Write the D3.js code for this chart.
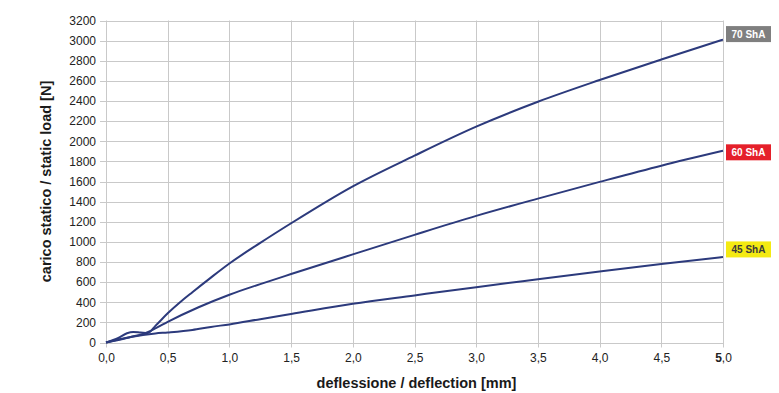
<!DOCTYPE html>
<meta charset="utf-8">
<script src="https://d3js.org/d3.v7.min.js"></script>
<style>
body { margin: 0; background: #fff; }
text { font-family: "Liberation Sans", Arial, sans-serif; }
.grid line { stroke: #c9c9c9; stroke-width: 1px; }
.axis path { display: none; }
.axis line { stroke: #b0b0b0; }
.axis text { font-size: 12px; fill: #222; }
.curve { fill: none; stroke: #2c3a7c; stroke-width: 2px; stroke-linejoin: round; }
.axisTitle { font-size: 14.5px; font-weight: bold; fill: #1a1a1a; }
.tag text { font-size: 10px; font-weight: bold; }
</style>
<body>
<script>

// deflection (mm) ticks and load (N) ticks
const xTicks = [0, 0.5, 1, 1.5, 2, 2.5, 3, 3.5, 4, 4.5, 5];
const yTicks = d3.range(0, 3201, 200);

// 70 ShA
const defl70 = [0, 0.1, 0.17, 0.22, 0.28, 0.34, 0.4, 0.5, 0.6, 0.7, 0.85, 1.0, 1.25, 1.5, 2.0, 2.5, 3.0, 3.5, 4.0, 4.5, 5.0];
const load70 = [0, 45, 92, 105, 100, 95, 165, 290, 400, 500, 645, 785, 990, 1185, 1552, 1857, 2145, 2392, 2608, 2812, 3010];

// 60 ShA
const defl60 = [0, 0.1, 0.2, 0.3, 0.4, 0.5, 0.75, 1.0, 1.25, 1.5, 2.0, 2.5, 3.0, 3.5, 4.0, 4.5, 5.0];
const load60 = [0, 25, 55, 85, 140, 205, 350, 475, 580, 680, 876, 1070, 1258, 1430, 1596, 1757, 1905];

// 45 ShA
const defl45 = [0, 0.1, 0.2, 0.3, 0.4, 0.5, 0.7, 0.85, 1.0, 1.25, 1.5, 2.0, 2.5, 3.0, 3.5, 4.0, 4.5, 5.0];
const load45 = [0, 30, 55, 75, 90, 100, 125, 155, 180, 232, 283, 385, 468, 550, 628, 705, 780, 850];

// tags on the right: name, load where the tag sits, colours
const tagNames = ["70 ShA", "60 ShA", "45 ShA"];
const tagLoads = [3065, 1890, 925];
const tagFills = ["#7f7f7f", "#e5202a", "#f4ea12"];
const tagInk = ["#ffffff", "#ffffff", "#3a3a3a"];

const width = 779, height = 393;
const margin = {top: 20.5, right: 56, bottom: 50.5, left: 106};

const svg = d3.select("body").append("svg")
  .attr("width", width)
  .attr("height", height);

const x = d3.scaleLinear().domain([0, 5]).range([margin.left, width - margin.right]);
const y = d3.scaleLinear().domain([0, 3200]).range([height - margin.bottom, margin.top]);

// GRID
svg.append("g").attr("class", "grid")
  .selectAll("line").data(yTicks).join("line")
  .attr("x1", margin.left - 6).attr("x2", x(5))
  .attr("y1", d => Math.round(y(d)) + 0.5).attr("y2", d => Math.round(y(d)) + 0.5);

svg.append("g").attr("class", "grid")
  .selectAll("line").data(xTicks).join("line")
  .attr("x1", d => Math.round(x(d)) + 0.5).attr("x2", d => Math.round(x(d)) + 0.5)
  .attr("y1", y(3200)).attr("y2", y(0) + 5);

// AXES (labels only, lines come from the grid)
const fmt = d3.format(".1f");
svg.append("g").attr("class", "axis")
  .attr("transform", `translate(${margin.left},0)`)
  .call(d3.axisLeft(y).tickValues(yTicks).tickSize(0).tickPadding(10).tickFormat(d3.format("d")));

const xAxis = svg.append("g").attr("class", "axis")
  .attr("transform", `translate(0,${y(0)})`)
  .call(d3.axisBottom(x).tickValues(xTicks).tickSize(0).tickPadding(11)
    .tickFormat(d => fmt(d).replace(".", ",")));

// last label has a bold first digit
xAxis.selectAll(".tick text").filter(d => d === 5)
  .text(null)
  .call(t => {
    t.append("tspan").attr("font-weight", "bold").text("5");
    t.append("tspan").text(",0");
  });

// CURVES
const line = d3.line().x(d => x(d[0])).y(d => y(d[1])).curve(d3.curveMonotoneX);
const series = [
  d3.zip(defl70, load70),
  d3.zip(defl60, load60),
  d3.zip(defl45, load45)
];
svg.selectAll(".curve").data(series).join("path")
  .attr("class", "curve")
  .attr("d", line);

// TAGS
const tags = svg.selectAll(".tag").data(tagNames).join("g")
  .attr("class", "tag")
  .attr("transform", (d, i) => `translate(${x(5) + 3},${y(tagLoads[i])})`);
tags.append("rect")
  .attr("x", 0).attr("y", -8)
  .attr("width", 45).attr("height", 16)
  .attr("fill", (d, i) => tagFills[i]);
tags.append("text")
  .attr("x", 22.5).attr("y", 3.5)
  .attr("text-anchor", "middle")
  .attr("fill", (d, i) => tagInk[i])
  .text(d => d);

// TITLES
svg.append("text").attr("class", "axisTitle")
  .attr("x", (x(0) + x(5)) / 2 + 2)
  .attr("y", 388)
  .attr("text-anchor", "middle")
  .text("deflessione / deflection [mm]");

svg.append("text").attr("class", "axisTitle")
  .attr("transform", `translate(51,${(y(0) + y(3200)) / 2}) rotate(-90)`)
  .attr("text-anchor", "middle")
  .text("carico statico / static load [N]");

</script>
</body>
